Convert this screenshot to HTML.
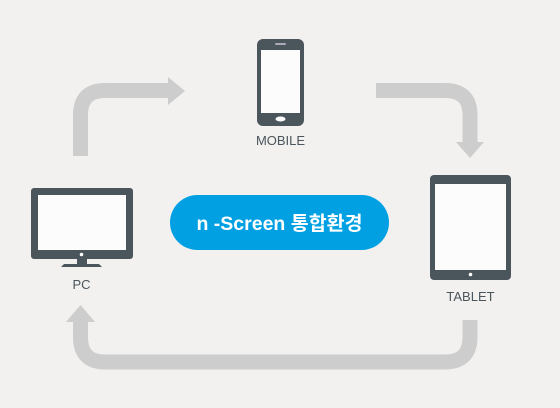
<!DOCTYPE html>
<html><head><meta charset="utf-8"><style>
body{margin:0;width:560px;height:403px;background:#f2f1ef;overflow:hidden;font-family:"Liberation Sans","Noto Sans CJK KR",sans-serif}
</style></head><body>
<svg width="560" height="403" viewBox="0 0 560 403" xmlns="http://www.w3.org/2000/svg">
<g fill="none" stroke="#cdcdcd" stroke-width="15">
<path d="M80.5 156 V115 Q80.5 90.5 105 90.5 H170"/>
<path d="M376 90.5 H445 Q470 90.5 470 115 V143"/>
<path d="M470 320 V337 Q470 362 445 362 H105 Q80.5 362 80.5 337 V320"/>
</g>
<g fill="#cdcdcd">
<polygon points="168,77 185,91 168,105"/>
<polygon points="456,142 484,142 470,158"/>
<polygon points="66,322 95,322 80.5,305"/>
</g>
<rect x="257" y="39" width="47" height="87" rx="6" fill="#4b555c"/>
<rect x="261" y="50" width="39" height="63" fill="#fcfcfc"/>
<rect x="275" y="43" width="11" height="2" rx="1" fill="#aab"/>
<ellipse cx="280.5" cy="119" rx="5" ry="2.5" fill="#fcfcfc"/>
<text x="280.5" y="145" text-anchor="middle" font-size="13" fill="#4b555c">MOBILE</text>
<rect x="31" y="188" width="102" height="71" rx="3" fill="#4b555c"/>
<rect x="38" y="195" width="88" height="55" fill="#fcfcfc"/>
<circle cx="81.5" cy="254.5" r="1.8" fill="#fcfcfc"/>
<rect x="77" y="259" width="10" height="5" fill="#4b555c"/>
<polygon points="61,267 102,267 99,264 64,264" fill="#4b555c"/>
<text x="81.5" y="289" text-anchor="middle" font-size="13" fill="#4b555c">PC</text>
<rect x="430" y="175" width="81" height="105" rx="4" fill="#4b555c"/>
<rect x="435" y="184" width="71" height="86" fill="#fcfcfc"/>
<circle cx="470.5" cy="274.5" r="1.8" fill="#fcfcfc"/>
<text x="470.5" y="301" text-anchor="middle" font-size="13" fill="#4b555c">TABLET</text>
<rect x="170" y="195" width="219" height="55" rx="27.5" fill="#00a0e3"/>
<text x="279.5" y="230" text-anchor="middle" font-size="19.5" font-weight="bold" fill="#fff">n -Screen 통합환경</text>
</svg>
</body></html>
